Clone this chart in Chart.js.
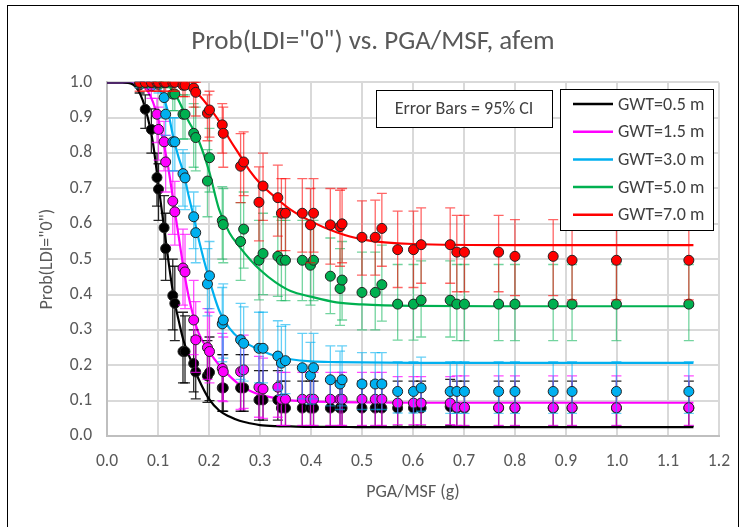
<!DOCTYPE html>
<html>
<head>
<meta charset="utf-8">
<script src="https://cdn.jsdelivr.net/npm/chart.js@4.4.1/dist/chart.umd.min.js"></script>
<style>
  html, body { margin: 0; padding: 0; background: #fff; }
  #wrap { position: relative; width: 745px; height: 527px; overflow: hidden; }
  #frame { position: absolute; left: 7px; top: 5px; width: 730px; height: 540px; border: 1px solid #000; pointer-events: none; }
</style>
</head>
<body>
<div id="wrap">
  <canvas id="probChart"></canvas>
  <div id="frame"></div>
</div>
<script>
// PGA/MSF of each record (g)
const pga = [0.064, 0.075, 0.087, 0.098, 0.101, 0.112, 0.115, 0.129, 0.133, 0.149,
             0.153, 0.170, 0.174, 0.197, 0.201, 0.226, 0.228, 0.262, 0.268, 0.298,
             0.306, 0.335, 0.342, 0.350, 0.383, 0.399, 0.405, 0.438, 0.457, 0.461,
             0.500, 0.526, 0.539, 0.570, 0.601, 0.616, 0.673, 0.686, 0.701, 0.768,
             0.800, 0.875, 0.912, 0.999, 1.141];

// GWT = 0.5 m
const gwt05 = [0.993, 0.924, 0.867, 0.731, 0.698, 0.589, 0.530, 0.397, 0.375, 0.239,
               0.239, 0.205, 0.181, 0.170, 0.180, 0.136, 0.136, 0.136, 0.136, 0.102,
               0.102, 0.102, 0.079, 0.079, 0.079, 0.079, 0.079, 0.079, 0.079, 0.079,
               0.079, 0.079, 0.079, 0.079, 0.079, 0.079, 0.083, 0.079, 0.079, 0.079,
               0.079, 0.079, 0.079, 0.079, 0.079];
const gwt05Lo = [0.970, 0.870, 0.800, 0.650, 0.610, 0.500, 0.440, 0.300, 0.270, 0.150,
                 0.150, 0.125, 0.105, 0.095, 0.100, 0.070, 0.070, 0.070, 0.070, 0.045,
                 0.045, 0.045, 0.028, 0.028, 0.028, 0.028, 0.028, 0.028, 0.028, 0.028,
                 0.028, 0.028, 0.028, 0.028, 0.028, 0.028, 0.030, 0.028, 0.028, 0.028,
                 0.028, 0.028, 0.028, 0.028, 0.028];
const gwt05Hi = [1.000, 0.965, 0.925, 0.800, 0.770, 0.680, 0.630, 0.500, 0.480, 0.350,
                 0.340, 0.300, 0.280, 0.270, 0.280, 0.230, 0.230, 0.230, 0.230, 0.185,
                 0.185, 0.185, 0.155, 0.155, 0.155, 0.155, 0.155, 0.155, 0.155, 0.155,
                 0.155, 0.155, 0.155, 0.155, 0.155, 0.155, 0.160, 0.155, 0.155, 0.155,
                 0.155, 0.155, 0.155, 0.155, 0.155];

// GWT = 1.5 m
const gwt15 = [1.000, 1.000, 0.990, 0.910, 0.867, 0.832, 0.775, 0.664, 0.634, 0.475,
               0.464, 0.328, 0.272, 0.250, 0.239, 0.191, 0.182, 0.182, 0.187, 0.138,
               0.133, 0.138, 0.104, 0.104, 0.104, 0.104, 0.104, 0.104, 0.104, 0.104,
               0.104, 0.104, 0.104, 0.093, 0.093, 0.093, 0.093, 0.081, 0.081, 0.080,
               0.080, 0.080, 0.080, 0.080, 0.080];
const gwt15Lo = [0.985, 0.985, 0.955, 0.830, 0.780, 0.750, 0.690, 0.570, 0.540, 0.370,
                 0.360, 0.230, 0.180, 0.160, 0.150, 0.100, 0.097, 0.075, 0.078, 0.053,
                 0.050, 0.053, 0.030, 0.030, 0.030, 0.030, 0.030, 0.030, 0.030, 0.030,
                 0.030, 0.030, 0.030, 0.032, 0.032, 0.032, 0.032, 0.030, 0.030, 0.030,
                 0.030, 0.030, 0.030, 0.030, 0.030];
const gwt15Hi = [1.000, 1.000, 1.000, 0.955, 0.930, 0.890, 0.850, 0.750, 0.720, 0.585,
                 0.570, 0.440, 0.380, 0.360, 0.350, 0.290, 0.280, 0.280, 0.285, 0.225,
                 0.220, 0.225, 0.180, 0.180, 0.180, 0.180, 0.180, 0.180, 0.180, 0.180,
                 0.180, 0.180, 0.180, 0.168, 0.168, 0.168, 0.168, 0.170, 0.170, 0.170,
                 0.170, 0.170, 0.170, 0.170, 0.170];

// GWT = 3.0 m
const gwt30 = [1.000, 1.000, 1.000, 1.000, 0.995, 0.957, 0.910, 0.832, 0.832, 0.742,
               0.730, 0.620, 0.575, 0.430, 0.453, 0.317, 0.328, 0.272, 0.262, 0.248,
               0.248, 0.226, 0.206, 0.213, 0.193, 0.171, 0.193, 0.159, 0.147, 0.159,
               0.147, 0.147, 0.147, 0.126, 0.126, 0.136, 0.126, 0.126, 0.126, 0.126,
               0.126, 0.126, 0.126, 0.126, 0.126];
const gwt30Lo = [0.985, 0.985, 0.985, 0.980, 0.970, 0.900, 0.850, 0.750, 0.750, 0.650,
                 0.640, 0.530, 0.490, 0.340, 0.360, 0.210, 0.220, 0.160, 0.155, 0.150,
                 0.150, 0.130, 0.115, 0.120, 0.105, 0.090, 0.105, 0.085, 0.075, 0.085,
                 0.075, 0.075, 0.075, 0.065, 0.065, 0.070, 0.064, 0.064, 0.064, 0.064,
                 0.064, 0.064, 0.064, 0.064, 0.064];
const gwt30Hi = [1.000, 1.000, 1.000, 1.000, 1.000, 0.990, 0.960, 0.900, 0.900, 0.810,
                 0.800, 0.690, 0.650, 0.530, 0.550, 0.420, 0.430, 0.375, 0.365, 0.350,
                 0.350, 0.326, 0.310, 0.315, 0.290, 0.265, 0.290, 0.255, 0.240, 0.255,
                 0.236, 0.236, 0.236, 0.210, 0.210, 0.223, 0.210, 0.210, 0.210, 0.210,
                 0.210, 0.210, 0.210, 0.210, 0.210];

// GWT = 5.0 m
const gwt50 = [1.000, 1.000, 1.000, 1.000, 1.000, 1.000, 1.000, 0.967, 0.967, 0.910,
               0.910, 0.856, 0.844, 0.721, 0.787, 0.609, 0.598, 0.550, 0.585, 0.497,
               0.516, 0.508, 0.497, 0.497, 0.497, 0.483, 0.497, 0.452, 0.417, 0.441,
               0.406, 0.406, 0.428, 0.373, 0.373, 0.384, 0.384, 0.373, 0.373, 0.373,
               0.373, 0.373, 0.373, 0.373, 0.373];
const gwt50Lo = [0.985, 0.985, 0.985, 0.985, 0.985, 0.985, 0.985, 0.920, 0.920, 0.840,
                 0.840, 0.760, 0.750, 0.620, 0.690, 0.500, 0.490, 0.440, 0.475, 0.385,
                 0.400, 0.395, 0.383, 0.383, 0.383, 0.370, 0.383, 0.346, 0.313, 0.328,
                 0.300, 0.300, 0.325, 0.271, 0.271, 0.280, 0.280, 0.270, 0.270, 0.270,
                 0.270, 0.270, 0.270, 0.270, 0.270];
const gwt50Hi = [1.000, 1.000, 1.000, 1.000, 1.000, 1.000, 1.000, 0.995, 0.995, 0.965,
                 0.965, 0.940, 0.930, 0.810, 0.870, 0.705, 0.700, 0.660, 0.690, 0.610,
                 0.630, 0.620, 0.610, 0.610, 0.610, 0.600, 0.610, 0.560, 0.530, 0.550,
                 0.520, 0.520, 0.540, 0.485, 0.485, 0.495, 0.495, 0.485, 0.485, 0.485,
                 0.485, 0.485, 0.485, 0.485, 0.485];

// GWT = 7.0 m
const gwt70 = [1.000, 1.000, 1.000, 1.000, 1.000, 1.000, 1.000, 1.000, 1.000, 0.992,
               0.992, 0.984, 0.972, 0.913, 0.922, 0.880, 0.856, 0.763, 0.775, 0.661,
               0.707, 0.674, 0.630, 0.630, 0.630, 0.597, 0.630, 0.597, 0.592, 0.600,
               0.562, 0.562, 0.587, 0.527, 0.527, 0.541, 0.541, 0.520, 0.520, 0.520,
               0.508, 0.508, 0.497, 0.497, 0.497];
const gwt70Lo = [0.975, 0.975, 0.975, 0.975, 0.975, 0.975, 0.975, 0.975, 0.975, 0.960,
                 0.960, 0.930, 0.905, 0.835, 0.845, 0.800, 0.760, 0.660, 0.680, 0.552,
                 0.610, 0.565, 0.524, 0.524, 0.520, 0.490, 0.520, 0.486, 0.480, 0.490,
                 0.455, 0.455, 0.480, 0.420, 0.420, 0.432, 0.432, 0.408, 0.408, 0.408,
                 0.397, 0.397, 0.385, 0.385, 0.385];
const gwt70Hi = [1.000, 1.000, 1.000, 1.000, 1.000, 1.000, 1.000, 1.000, 1.000, 1.000,
                 1.000, 1.000, 1.000, 0.965, 0.975, 0.940, 0.930, 0.855, 0.860, 0.761,
                 0.800, 0.766, 0.728, 0.728, 0.728, 0.700, 0.728, 0.700, 0.695, 0.700,
                 0.665, 0.667, 0.686, 0.636, 0.636, 0.645, 0.645, 0.624, 0.624, 0.624,
                 0.612, 0.612, 0.600, 0.600, 0.600];

// fitted curves at these PGA/MSF values
const fitX = [0, 0.03, 0.05, 0.06, 0.07, 0.08, 0.09, 0.10, 0.11, 0.12,
              0.13, 0.14, 0.15, 0.16, 0.17, 0.18, 0.20, 0.22, 0.24, 0.26,
              0.28, 0.30, 0.33, 0.36, 0.40, 0.45, 0.50, 0.60, 0.80, 1.15];
const fit05 = [1, 1, 0.995, 0.98, 0.95, 0.90, 0.83, 0.72, 0.61, 0.50,
               0.40, 0.33, 0.27, 0.23, 0.195, 0.16, 0.105, 0.072, 0.055, 0.043,
               0.036, 0.031, 0.028, 0.027, 0.026, 0.026, 0.025, 0.025, 0.025, 0.025];
const fit15 = [1, 1, 1, 0.998, 0.99, 0.975, 0.945, 0.90, 0.835, 0.76,
               0.665, 0.57, 0.475, 0.395, 0.335, 0.29, 0.24, 0.20, 0.17, 0.145,
               0.128, 0.117, 0.107, 0.101, 0.098, 0.096, 0.095, 0.094, 0.094, 0.094];
const fit30 = [1, 1, 1, 1, 1, 1, 0.995, 0.985, 0.96, 0.915,
               0.845, 0.79, 0.745, 0.68, 0.62, 0.555, 0.445, 0.355, 0.305, 0.275,
               0.257, 0.243, 0.226, 0.217, 0.211, 0.209, 0.208, 0.207, 0.207, 0.207];
const fit50 = [1, 1, 1, 1, 1, 1, 1, 0.999, 0.997, 0.99,
               0.975, 0.95, 0.92, 0.89, 0.865, 0.835, 0.75, 0.64, 0.575, 0.535,
               0.50, 0.47, 0.435, 0.41, 0.394, 0.378, 0.372, 0.368, 0.367, 0.367];
const fit70 = [1, 1, 1, 1, 1, 1, 1, 1, 1, 1,
               0.999, 0.997, 0.993, 0.986, 0.977, 0.965, 0.93, 0.89, 0.84, 0.795,
               0.75, 0.715, 0.675, 0.64, 0.607, 0.576, 0.556, 0.543, 0.54, 0.54];

const seriesNames = ['GWT=0.5 m', 'GWT=1.5 m', 'GWT=3.0 m', 'GWT=5.0 m', 'GWT=7.0 m'];
const seriesColors = ['#000000', '#ff00ff', '#00b0f0', '#00b050', '#ff0000'];
const barColors = ['rgba(0,0,0,0.85)', 'rgba(255,0,255,0.7)', 'rgba(0,176,240,0.6)',
                   'rgba(0,176,80,0.55)', 'rgba(255,0,0,0.6)'];

const FONT = "Carlito, 'Liberation Sans Narrow', Lato, sans-serif";
const TEXT = '#595959';

function toPoints(xs, ys) {
    return xs.map((x, i) => ({ x: x, y: ys[i] }));
}

const obs = [gwt05, gwt15, gwt30, gwt50, gwt70];
const obsLo = [gwt05Lo, gwt15Lo, gwt30Lo, gwt50Lo, gwt70Lo];
const obsHi = [gwt05Hi, gwt15Hi, gwt30Hi, gwt50Hi, gwt70Hi];
const fits = [fit05, fit15, fit30, fit50, fit70];

const datasets = [];
fits.forEach((f, k) => {
    datasets.push({
        label: seriesNames[k],
        isFit: true,
        data: toPoints(fitX, f),
        showLine: true,
        borderColor: seriesColors[k],
        borderWidth: 2.2,
        pointRadius: 0,
        cubicInterpolationMode: 'monotone',
        order: 10 + k
    });
});
obs.forEach((o, k) => {
    datasets.push({
        label: seriesNames[k] + ' data',
        data: toPoints(pga, o),
        errLo: obsLo[k],
        errHi: obsHi[k],
        errColor: barColors[k],
        showLine: false,
        backgroundColor: seriesColors[k],
        borderColor: '#222222',
        pointBorderWidth: 1,
        pointRadius: 5,
        order: 4 - k
    });
});

// vertical 95% CI bars, drawn just under each point series
const errorBars = {
    id: 'errorBars',
    beforeDatasetDraw(chart, args) {
        const ds = chart.data.datasets[args.index];
        if (!ds.errLo) return;
        const ctx = chart.ctx;
        const xs = chart.scales.x, ys = chart.scales.y;
        ctx.save();
        ctx.strokeStyle = ds.errColor;
        ctx.lineWidth = 1.3;
        ds.data.forEach((p, i) => {
            const px = xs.getPixelForValue(p.x);
            const lo = ys.getPixelForValue(ds.errLo[i]);
            const hi = ys.getPixelForValue(ds.errHi[i]);
            ctx.beginPath();
            ctx.moveTo(px, lo); ctx.lineTo(px, hi);
            ctx.moveTo(px - 5, lo); ctx.lineTo(px + 5, lo);
            ctx.moveTo(px - 5, hi); ctx.lineTo(px + 5, hi);
            ctx.stroke();
        });
        ctx.restore();
    }
};

// note box and legend sit on top of the plot, as in the workbook
const boxes = {
    id: 'boxes',
    afterDraw(chart) {
        const ctx = chart.ctx;
        ctx.save();
        ctx.fillStyle = '#fff';
        ctx.strokeStyle = '#000';
        ctx.lineWidth = 1;
        ctx.fillRect(376, 90, 176, 37);
        ctx.strokeRect(376.5, 90.5, 176, 37);
        ctx.fillStyle = '#404040';
        ctx.font = '18px ' + FONT;
        ctx.textAlign = 'center';
        ctx.textBaseline = 'middle';
        ctx.fillText('Error Bars = 95% CI', 464, 109);

        ctx.fillStyle = '#fff';
        ctx.fillRect(560, 89, 153, 141);
        ctx.strokeRect(560.5, 89.5, 153, 141);
        ctx.textAlign = 'left';
        const fitSets = chart.data.datasets.filter(d => d.isFit);
        fitSets.forEach((d, i) => {
            const yy = 104 + i * 27.7;
            ctx.strokeStyle = d.borderColor;
            ctx.lineWidth = 2.5;
            ctx.beginPath();
            ctx.moveTo(573, yy);
            ctx.lineTo(613, yy);
            ctx.stroke();
            ctx.fillStyle = '#404040';
            ctx.fillText(d.label, 618, yy + 1);
        });
        ctx.restore();
    }
};

const probChart = new Chart(document.getElementById('probChart').getContext('2d'), {
    type: 'scatter',
    data: { datasets: datasets },
    options: {
        responsive: true,
        maintainAspectRatio: false,
        animation: false,
        layout: { padding: { left: 25, right: 24, top: 0, bottom: 0 } },
        plugins: {
            legend: { display: false },
            tooltip: { enabled: false },
            title: {
                display: true,
                text: 'Prob(LDI="0") vs. PGA/MSF, afem',
                color: TEXT,
                font: { family: FONT, size: 27, weight: 'normal' },
                padding: { top: 26, bottom: 24 }
            }
        },
        scales: {
            x: {
                type: 'linear',
                min: 0,
                max: 1.2,
                afterFit: s => { s.height = 91; },
                grid: { color: '#d9d9d9', lineWidth: 2, drawTicks: false },
                border: { color: '#bfbfbf', width: 2 },
                ticks: {
                    stepSize: 0.1,
                    padding: 15,
                    color: TEXT,
                    font: { family: FONT, size: 17.5 },
                    callback: v => v.toFixed(1)
                },
                title: {
                    display: true,
                    text: 'PGA/MSF (g)',
                    color: TEXT,
                    font: { family: FONT, size: 18 },
                    padding: { top: 0, bottom: 24 }
                }
            },
            y: {
                min: 0,
                max: 1,
                afterFit: s => { s.width = 82; },
                grid: { color: '#d9d9d9', lineWidth: 2, drawTicks: false },
                border: { color: '#bfbfbf', width: 2 },
                ticks: {
                    stepSize: 0.1,
                    padding: 15,
                    color: TEXT,
                    font: { family: FONT, size: 17.5 },
                    callback: v => v.toFixed(1)
                },
                title: {
                    display: true,
                    text: 'Prob(LDI="0")',
                    color: TEXT,
                    font: { family: FONT, size: 18 },
                    padding: { top: 12, bottom: 0 }
                }
            }
        }
    },
    plugins: [errorBars, boxes]
});
</script>
</body>
</html>
